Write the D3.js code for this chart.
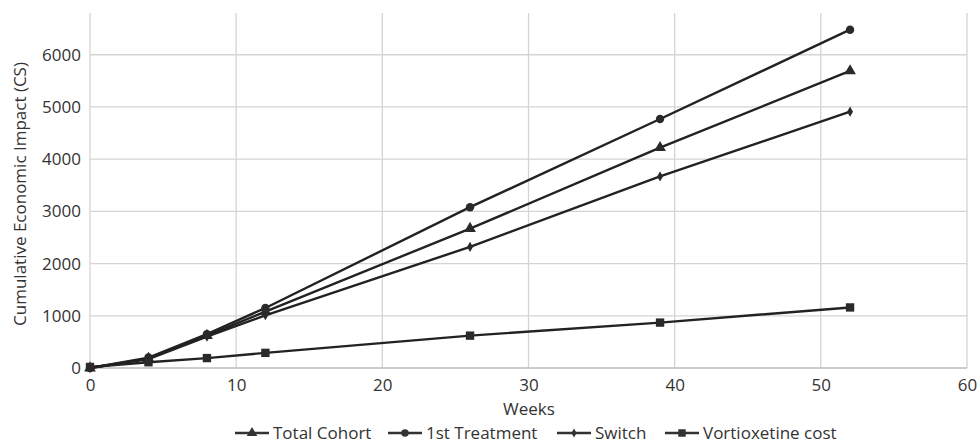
<!DOCTYPE html>
<html>
<head>
<meta charset="utf-8">
<script src="https://cdn.jsdelivr.net/npm/d3@7"></script>
<style>
  body { margin: 0; background: #fff; }
  text { font-family: "Open Sans", sans-serif; fill: #333; }
</style>
</head>
<body>
<svg id="chart" width="978" height="445"></svg>
<script>
// data
const weeks = [0, 4, 8, 12, 26, 39, 52]
const totalCohort = [0, 180, 620, 1080, 2670, 4220, 5690]
const firstTreatment = [0, 200, 650, 1150, 3080, 4770, 6480]
const switchVals = [0, 170, 600, 1010, 2320, 3670, 4910]
const vortioxetine = [20, 110, 190, 290, 620, 870, 1160]
const seriesNames = ["Total Cohort", "1st Treatment", "Switch", "Vortioxetine cost"]
const seriesSymbols = ["triangle", "circle", "diamond", "square"]
const xTicks = [0, 10, 20, 30, 40, 50, 60]
const yTicks = [0, 1000, 2000, 3000, 4000, 5000, 6000]

const margin = { top: 13, right: 11, bottom: 77, left: 90 },
  width = 978 - margin.left - margin.right,
  height = 445 - margin.top - margin.bottom

const series = [totalCohort, firstTreatment, switchVals, vortioxetine]

const svg = d3.select("#chart")
const g = svg.append("g")
  .attr("transform", "translate(" + margin.left + "," + margin.top + ")")

const xScale = d3.scaleLinear().domain([0, 60]).range([0, width])
const yScale = d3.scaleLinear().domain([0, 6800]).range([height, 0])

//gridlines
g.append("g")
  .selectAll("line.vg")
  .data(xTicks)
  .enter()
  .append("line")
  .attr("x1", d => xScale(d)).attr("x2", d => xScale(d))
  .attr("y1", 0).attr("y2", height)
  .attr("stroke", "#d4d4d4").attr("stroke-width", 1.3)

g.append("g")
  .selectAll("line.hg")
  .data(yTicks)
  .enter()
  .append("line")
  .attr("x1", 0).attr("x2", width)
  .attr("y1", d => yScale(d)).attr("y2", d => yScale(d))
  .attr("stroke", d => d === 0 ? "#bbb" : "#d4d4d4").attr("stroke-width", 1.3)

//axes (labels only)
const xAxis = d3.axisBottom(xScale).tickValues(xTicks).tickSize(0).tickPadding(11)
const yAxis = d3.axisLeft(yScale).tickValues(yTicks).tickSize(0).tickPadding(9).tickFormat(d3.format("d"))

g.append("g")
  .attr("transform", "translate(0," + height + ")")
  .call(xAxis)
  .call(a => a.select(".domain").remove())
  .selectAll("text")
  .style("font-size", "17px")
  .attr("fill", "#333")

g.append("g")
  .call(yAxis)
  .call(a => a.select(".domain").remove())
  .selectAll("text")
  .style("font-size", "17px")
  .attr("fill", "#333")

svg.append("text")
  .attr("x", 529)
  .attr("y", 415)
  .attr("text-anchor", "middle")
  .style("font-size", "17px")
  .text("Weeks")

svg.append("text")
  .attr("transform", "translate(26,194) rotate(-90)")
  .attr("text-anchor", "middle")
  .style("font-size", "17px")
  .text("Cumulative Economic Impact (CS)")

//lines + markers
const line = d3.line()
  .x((d, i) => xScale(weeks[i]))
  .y(d => yScale(d))

const symbolType = { triangle: d3.symbolTriangle, circle: d3.symbolCircle, diamond: d3.symbolDiamond, square: d3.symbolSquare }
const symbolSize = { triangle: 60, circle: 55, diamond: 30, square: 70 }

series.forEach((s, k) => {
  g.append("path")
    .datum(s)
    .attr("fill", "none")
    .attr("stroke", "#222")
    .attr("stroke-width", 2.4)
    .attr("d", line)

  g.append("g")
    .selectAll("path")
    .data(s)
    .enter()
    .append("path")
    .attr("transform", (d, i) => "translate(" + xScale(weeks[i]) + "," + yScale(d) + ")")
    .attr("d", d3.symbol().type(symbolType[seriesSymbols[k]]).size(symbolSize[seriesSymbols[k]]))
    .attr("fill", "#2a2a2a")
})

//legend
const legendX = [235, 388, 557, 665]
const legend = svg.append("g").attr("transform", "translate(0,433)")
seriesNames.forEach((name, k) => {
  const lg = legend.append("g").attr("transform", "translate(" + legendX[k] + ",0)")
  lg.append("line")
    .attr("x1", 0).attr("x2", 34).attr("y1", 0).attr("y2", 0)
    .attr("stroke", "#333").attr("stroke-width", 2.6)
  lg.append("path")
    .attr("transform", "translate(17,0)")
    .attr("d", d3.symbol().type(symbolType[seriesSymbols[k]]).size(symbolSize[seriesSymbols[k]] * 0.8))
    .attr("fill", "#333")
  lg.append("text")
    .attr("x", 38)
    .attr("y", 6)
    .style("font-size", "17px")
    .text(name)
})
</script>
</body>
</html>
